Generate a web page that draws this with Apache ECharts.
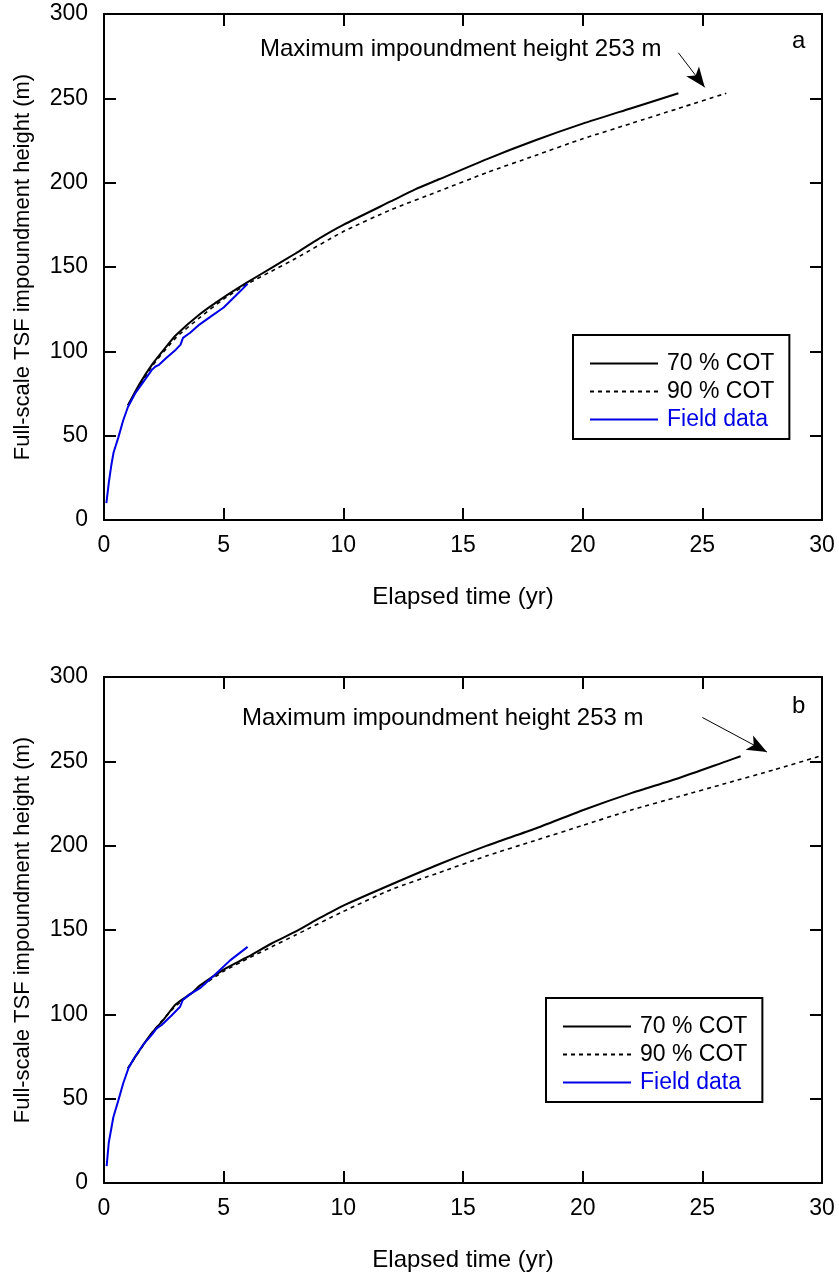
<!DOCTYPE html>
<html>
<head>
<meta charset="utf-8">
<script src="https://cdn.jsdelivr.net/npm/echarts@6/dist/echarts.min.js"></script>
<style>
html,body{margin:0;padding:0;background:#fff;}
#chart{width:839px;height:1274px;}
</style>
</head>
<body>
<div id="chart"></div>
<script>
// ---- Data (panel a) ----
const a70T = [1, 1.5, 2, 2.5, 3, 4, 5, 6, 7, 8, 9, 10, 12, 13, 14, 16, 18, 20, 22, 24];
const a70H = [68, 81, 92, 101, 109.5, 122, 132, 141, 149.5, 158, 167, 175, 189, 196, 202, 214, 225, 235, 244, 253];
const a90T = [1, 2, 3, 4, 5, 6, 7, 8, 10, 12, 14, 16, 18, 20, 22, 24, 26];
const a90H = [68, 91, 108, 120, 131, 140, 147.5, 155, 171, 184, 195, 206, 216, 226, 235, 244, 253];
const aFieldT = [0.1, 0.2, 0.3, 0.4, 0.6, 0.8, 1.0, 1.3, 1.6, 2.0, 2.15, 2.3, 2.6, 3.0, 3.2, 3.3, 3.6, 4.0, 4.5, 5.0, 5.5, 6.0];
const aFieldH = [10, 22, 32, 40, 49, 59, 67, 75, 81, 89, 91, 92, 96, 101, 104, 108, 111, 116, 121, 126, 133, 140];

// ---- Data (panel b) ----
const b70T = [1, 1.5, 2, 2.5, 3, 3.7, 4, 5, 6, 7, 8, 9, 10, 12, 14, 16, 18, 20, 22, 24, 26, 26.6];
const b70H = [68, 79, 89, 97, 106, 113, 117, 126.5, 134, 142, 149, 157, 164.5, 177, 189, 200, 210, 221, 231, 240, 250, 253];
const b90T = [1, 2, 3, 4, 5, 6, 7, 8, 10, 12, 14, 16, 18, 20, 22, 24, 26, 28, 29.9];
const b90H = [68, 89, 105, 116, 125.5, 133, 140, 147, 161, 174, 184, 194, 203, 212, 221, 229, 237, 245, 253];
const bFieldT = [0.11, 0.2, 0.39, 0.6, 0.8, 1.02, 1.3, 1.64, 2.0, 2.2, 2.41, 2.8, 3.18, 3.29, 3.6, 4.01, 4.6, 5.27, 6.0];
const bFieldH = [10, 24, 39, 49, 59, 68, 75, 82, 88, 91.7, 93.7, 99, 104.5, 108.5, 112, 115.5, 123, 132, 140];

// ---- Axes ----
const xTicks = [0, 5, 10, 15, 20, 25, 30];
const yTicks = [0, 50, 100, 150, 200, 250, 300];
const seriesNames = ['70 % COT', '90 % COT', 'Field data'];
const annotationText = 'Maximum impoundment height 253 m';
const panelLabels = ['a', 'b'];
// arrow endpoints (data space) [start, end]
const arrowA = [[24.0, 277], [25.1, 256.5]];
const arrowB = [[25.0, 276], [27.7, 255.5]];

const pair = (t, h) => t.map((v, i) => [v, h[i]]);

const FONT = 'Liberation Sans';
const FS = 23;
const FS_BIG = 24;
const BLUE = '#0000e6';

const lineAx = {show: true, onZero: false, lineStyle: {color: '#000', width: 2}};
const tickAx = {show: true, inside: true, length: 12, lineStyle: {color: '#000', width: 2}};

function xAxisPair(gi) {
  return [
    {
      type: 'value', gridIndex: gi, position: 'bottom', min: xTicks[0], max: xTicks[xTicks.length - 1], interval: 5,
      name: 'Elapsed time (yr)', nameLocation: 'middle', nameGap: 65,
      nameTextStyle: {fontFamily: FONT, fontSize: FS_BIG, color: '#000'},
      axisLine: lineAx, axisTick: tickAx,
      axisLabel: {fontFamily: FONT, fontSize: FS, color: '#000', margin: 14},
      splitLine: {show: false}
    },
    {
      type: 'value', gridIndex: gi, position: 'top', min: xTicks[0], max: xTicks[xTicks.length - 1], interval: 5,
      axisLine: lineAx, axisTick: tickAx,
      axisLabel: {show: false}, splitLine: {show: false}
    }
  ];
}
function yAxisPair(gi) {
  return [
    {
      type: 'value', gridIndex: gi, position: 'left', min: yTicks[0], max: yTicks[yTicks.length - 1], interval: 50,
      name: 'Full-scale TSF impoundment height (m)', nameLocation: 'middle', nameGap: 70, nameRotate: 90,
      nameTextStyle: {fontFamily: FONT, fontSize: 22, color: '#000'},
      axisLine: lineAx, axisTick: tickAx,
      axisLabel: {fontFamily: FONT, fontSize: FS, color: '#000', margin: 16},
      splitLine: {show: false}
    },
    {
      type: 'value', gridIndex: gi, position: 'right', min: yTicks[0], max: yTicks[yTicks.length - 1], interval: 50,
      axisLine: lineAx, axisTick: tickAx,
      axisLabel: {show: false}, splitLine: {show: false}
    }
  ];
}

function arrowMark(arrow) {
  return {
    silent: true,
    symbol: ['none', 'arrow'],
    symbolSize: [12, 20],
    label: {show: false},
    lineStyle: {color: '#000', width: 1, type: 'solid'},
    emphasis: {disabled: true},
    data: [[{coord: arrow[0]}, {coord: arrow[1]}]]
  };
}

function panelSeries(gi, d70, d90, dField, arrow) {
  const xi = gi * 2, yi = gi * 2;
  return [
    {name: seriesNames[0], type: 'line', xAxisIndex: xi, yAxisIndex: yi, data: d70, showSymbol: false, symbol: 'none',
     lineStyle: {color: '#000', width: 2}, itemStyle: {color: '#000'}, smooth: 0.2, z: 3},
    {name: seriesNames[1], type: 'line', xAxisIndex: xi, yAxisIndex: yi, data: d90, showSymbol: false, symbol: 'none',
     lineStyle: {color: '#000', width: 1.6, type: [4, 4]}, itemStyle: {color: '#000'}, smooth: 0.2, z: 3,
     markLine: arrowMark(arrow)},
    {name: seriesNames[2], type: 'line', xAxisIndex: xi, yAxisIndex: yi, data: dField, showSymbol: false, symbol: 'none',
     lineStyle: {color: BLUE, width: 2}, itemStyle: {color: BLUE}, z: 4}
  ];
}

function legendBox(left, top) {
  return {
    orient: 'vertical', left: left, top: top,
    itemWidth: 68, itemHeight: 20, itemGap: 5,
    padding: [17, 15, 8, 16],
    borderColor: '#000', borderWidth: 2, backgroundColor: '#fff',
    selectedMode: false,
    itemStyle: {opacity: 0, borderWidth: 0},
    textStyle: {fontFamily: FONT, fontSize: FS, color: '#000', padding: [0, 0, 0, 4]},
    data: [
      {name: seriesNames[0]},
      {name: seriesNames[1]},
      {name: seriesNames[2], textStyle: {color: BLUE}}
    ]
  };
}

const chart = echarts.init(document.getElementById('chart'), null, {renderer: 'canvas'});
chart.setOption({
  backgroundColor: '#fff',
  animation: false,
  grid: [
    {left: 104, top: 14, width: 718, height: 506},
    {left: 104, top: 677, width: 718, height: 506}
  ],
  xAxis: [...xAxisPair(0), ...xAxisPair(1)],
  yAxis: [...yAxisPair(0), ...yAxisPair(1)],
  legend: [legendBox(573, 335), legendBox(546, 998)],
  series: [
    ...panelSeries(0, pair(a70T, a70H), pair(a90T, a90H), pair(aFieldT, aFieldH), arrowA),
    ...panelSeries(1, pair(b70T, b70H), pair(b90T, b90H), pair(bFieldT, bFieldH), arrowB)
  ],
  graphic: [
    {type: 'text', left: 260, top: 50 - 13, style: {text: annotationText, font: FS_BIG + 'px "' + FONT + '"', fill: '#000'}},
    {type: 'text', left: 242, top: 719 - 13, style: {text: annotationText, font: FS_BIG + 'px "' + FONT + '"', fill: '#000'}},
    {type: 'text', left: 792, top: 42 - 13, style: {text: panelLabels[0], font: FS_BIG + 'px "' + FONT + '"', fill: '#000'}},
    {type: 'text', left: 792, top: 707 - 13, style: {text: panelLabels[1], font: FS_BIG + 'px "' + FONT + '"', fill: '#000'}}
  ]
});
</script>
</body>
</html>
